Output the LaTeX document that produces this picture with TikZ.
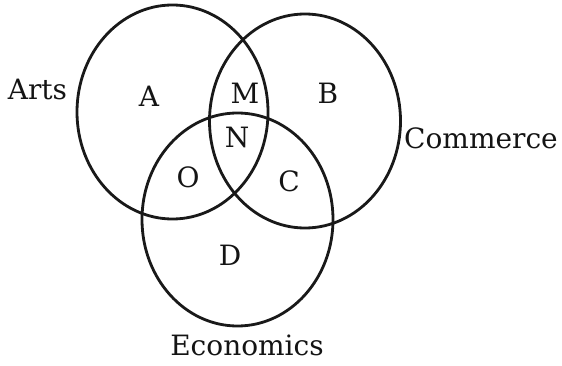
\documentclass[tikz,border=0pt]{standalone}
\usepackage{fontspec}
\setmainfont{DejaVu Serif}
\begin{document}
\begin{tikzpicture}[x=1pt,y=-1pt,
  setline/.style={draw=black!90, line width=2.8pt},
  lbl/.style={inner sep=0pt, text=black!92, font=\fontsize{28}{30}\selectfont}]
\useasboundingbox (0,0) rectangle (562,366);
\draw[setline] (172.5,112) ellipse [x radius=95.5pt, y radius=107pt];
\draw[setline] (305,121) ellipse [x radius=95.5pt, y radius=107pt];
\draw[setline] (237.5,219.5) ellipse [x radius=95.5pt, y radius=106.5pt];
\node[lbl] (arts) at (37.5,89) {Arts};
\node[lbl] (com) at (481,138) {Commerce};
\node[lbl] (eco) at (247,345) {Economics};
\node[lbl] (a) at (149,96) {A};
\node[lbl] (m) at (245,93) {M};
\node[lbl] (b) at (328,93) {B};
\node[lbl] (n) at (237,137) {N};
\node[lbl] (o) at (188,177) {O};
\node[lbl] (c) at (289,181) {C};
\node[lbl] (d) at (230,255) {D};
\end{tikzpicture}
\end{document}
